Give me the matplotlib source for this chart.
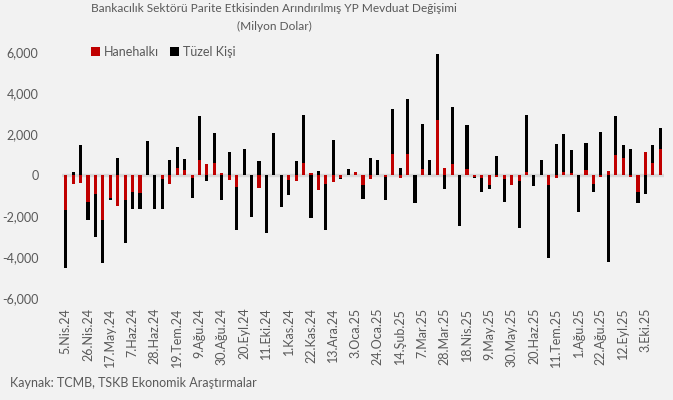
import matplotlib
matplotlib.use("Agg")
import matplotlib.pyplot as plt
from matplotlib.ticker import FuncFormatter
from matplotlib.patches import Patch

# Weekly data, 5.Nis.24 .. 17.Eki.25 (81 weeks), million USD
hanehalki = [
    -1700, -420, -390, -1300, -930, -2200, -1140, -1510, -1220, -830,
    -880, 0, 0, -210, -420, 340, 260, -130, 730, 520,
    570, 80, -260, -590, 0, 0, -620, 0, 0, 0,
    -260, -310, 600, 80, -730, -420, -340, -130, 0, 170,
    -490, -210, 0, -100, 1010, -160, 1040, 0, 290, 0,
    2670, 340, 520, 0, 290, -100, -130, -500, -80, -210,
    -500, -290, 130, 0, 0, -500, -130, 130, 80, 0,
    260, -420, -80, 210, 960, 830, -80, -830, 1120, 600,
    1250,
]
tuzel_kisi = [
    -2850, 130, 1480, -910, -2070, -2100, -80, 810, -2110, -810,
    -800, 1640, -1640, -1460, 730, 1020, 500, -990, 2130, -310,
    1460, -1220, 1120, -2100, 1250, -2030, 700, -2810, 2030, -1560,
    -700, 700, 2340, -2080, 210, -2260, 1720, -70, 290, 0,
    -680, 810, 730, -1110, 2200, 340, 2680, -1350, 2210, 730,
    3220, -700, 2810, -2470, 2160, -30, -680, -180, 940, -1120,
    0, -2290, 2800, -520, 730, -3560, 1510, 1850, 1120, -1820,
    1280, -390, 2110, -4230, 1900, 650, 1280, -520, -910, 880,
    1040,
]
tick_labels = [
    "5.Nis.24", "26.Nis.24", "17.May.24", "7.Haz.24", "28.Haz.24", "19.Tem.24",
    "9.Ağu.24", "30.Ağu.24", "20.Eyl.24", "11.Eki.24", "1.Kas.24", "22.Kas.24",
    "13.Ara.24", "3.Oca.25", "24.Oca.25", "14.Şub.25", "7.Mar.25", "28.Mar.25",
    "18.Nis.25", "9.May.25", "30.May.25", "20.Haz.25", "11.Tem.25", "1.Ağu.25",
    "22.Ağu.25", "12.Eyl.25", "3.Eki.25",
]
title = "Bankacılık Sektörü Parite Etkisinden Arındırılmış YP Mevduat Değişimi\n(Milyon Dolar)"
source = "Kaynak: TCMB, TSKB Ekonomik Araştırmalar"

RED = "#c00000"
BLACK = "#000000"
GRAY_TXT = "#595959"
BG = "#f2f2f2"
FONT = ["Lato", "DejaVu Sans"]
plt.rcParams["font.family"] = FONT

fig = plt.figure(figsize=(6.73, 4.0), dpi=100, facecolor=BG)
ax = fig.add_axes([62 / 673, 1 - 298 / 400, 602 / 673, 246 / 400], facecolor=BG)

n = len(hanehalki)
x = list(range(n))
w = 0.42
# stacking: positives up from 0, negatives down from 0
red_bottom = [0] * n
blk_bottom = []
for h, t in zip(hanehalki, tuzel_kisi):
    if (h >= 0 and t >= 0) or (h < 0 and t < 0):
        blk_bottom.append(h)
    else:
        blk_bottom.append(0)

ax.axhline(0, color="#d9d9d9", linewidth=2.4, zorder=1)
ax.bar(x, hanehalki, width=w, bottom=red_bottom, color=RED, zorder=2)
ax.bar(x, tuzel_kisi, width=w, bottom=blk_bottom, color=BLACK, zorder=2)

ax.set_xlim(-0.5, n - 0.5)
ax.set_ylim(-6000, 6000)
ax.set_yticks(range(-6000, 6001, 2000))
ax.yaxis.set_major_formatter(FuncFormatter(lambda v, p: f"{v:,.0f}"))
ax.set_xticks(list(range(0, n, 3))[: len(tick_labels)])
ax.set_xticklabels(tick_labels, rotation=90)
ax.tick_params(axis="both", length=0, colors=GRAY_TXT, labelsize=9)
ax.tick_params(axis="y", pad=17)
ax.tick_params(axis="x", pad=7)
for s in ax.spines.values():
    s.set_visible(False)

fig.text(274 / 673, 1 - 3 / 400, title, ha="center", va="top",
         fontsize=8.6, color=GRAY_TXT, linespacing=1.75)

handles = [Patch(facecolor=RED, label="Hanehalkı"), Patch(facecolor=BLACK, label="Tüzel Kişi")]
leg = fig.legend(handles=handles, loc="center left", bbox_to_anchor=(80 / 673, 1 - 52 / 400),
                 ncol=2, frameon=False, fontsize=9, handlelength=0.7, handleheight=0.7,
                 handletextpad=0.3, columnspacing=0.9)
for t in leg.get_texts():
    t.set_color(GRAY_TXT)

fig.text(10 / 673, 1 - 383 / 400, source, ha="left", va="center", fontsize=9, color=GRAY_TXT)

fig.savefig("out.png", dpi=100, facecolor=BG)
